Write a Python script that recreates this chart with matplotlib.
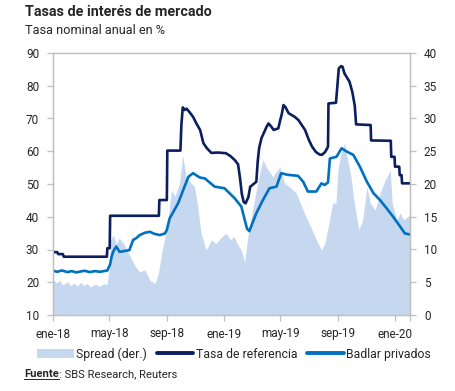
import matplotlib
matplotlib.use("Agg")
import matplotlib.pyplot as plt
import matplotlib.dates as mdates
from matplotlib.patches import Patch
from matplotlib.lines import Line2D
import pandas as pd

plt.rcParams['font.family'] = ['Roboto', 'DejaVu Sans']

# ---------------- data ----------------
tasa_dates = ["2018-01-01","2018-01-10","2018-01-12","2018-01-22","2018-01-24","2018-04-26","2018-04-27",
    "2018-05-02","2018-05-03","2018-08-15","2018-08-16","2018-09-01","2018-09-02","2018-09-30","2018-10-02",
    "2018-10-05","2018-10-09","2018-10-13","2018-10-18","2018-10-27","2018-11-03","2018-11-11","2018-11-18",
    "2018-11-25","2018-12-05","2018-12-20","2019-01-05","2019-01-15","2019-01-24","2019-01-31","2019-02-04",
    "2019-02-08","2019-02-12","2019-02-16","2019-02-22","2019-02-26","2019-03-01","2019-03-11","2019-03-14",
    "2019-03-17","2019-03-22","2019-04-02","2019-04-06","2019-04-12","2019-04-17","2019-04-27","2019-05-01",
    "2019-05-04","2019-05-08","2019-05-12","2019-05-19","2019-06-01","2019-06-09","2019-06-16","2019-06-23",
    "2019-07-01","2019-07-08","2019-07-16","2019-07-24","2019-07-29","2019-08-05","2019-08-11","2019-08-12",
    "2019-08-28","2019-08-31","2019-09-03","2019-09-08","2019-09-11","2019-09-15","2019-09-26","2019-10-02",
    "2019-10-07","2019-10-10","2019-11-10","2019-11-11","2019-12-23","2019-12-24","2019-12-31","2020-01-01",
    "2020-01-10","2020-01-11","2020-01-15","2020-01-16","2020-02-02"]
tasa_vals = [29.2,29.2,28.6,28.6,27.8,27.8,30.4,
    30.4,40.3,40.3,45.1,45.1,60.2,60.2,68.0,
    73.4,72.6,73.0,72.2,70.5,68.5,66.5,62.5,
    61.0,59.5,59.6,59.4,58.5,57.3,56.0,52.0,
    47.0,44.5,44.1,46.0,49.2,49.5,50.7,57.0,
    61.0,64.0,67.5,68.5,67.5,66.5,67.0,69.5,
    71.1,74.1,73.5,71.6,70.5,69.5,68.0,66.5,
    63.5,61.4,59.8,59.0,58.9,59.8,61.4,74.6,
    74.8,80.0,85.3,86.0,85.8,83.8,81.2,78.0,
    74.0,68.2,68.0,63.3,63.2,58.3,58.3,55.3,
    55.3,52.7,52.7,50.2,50.2]

badlar_dates = ["2018-01-01","2018-01-10","2018-01-20","2018-02-01","2018-02-10","2018-02-20","2018-03-01",
    "2018-03-10","2018-03-20","2018-04-01","2018-04-10","2018-04-20","2018-04-27","2018-05-03","2018-05-06",
    "2018-05-10","2018-05-16","2018-05-23","2018-06-01","2018-06-13","2018-06-21","2018-06-28","2018-07-05",
    "2018-07-16","2018-07-27","2018-08-05","2018-08-17","2018-08-28","2018-09-01","2018-09-07","2018-09-25",
    "2018-10-06","2018-10-17","2018-10-27","2018-11-10","2018-11-21","2018-12-12","2019-01-02","2019-01-24",
    "2019-02-07","2019-02-19","2019-02-24","2019-03-11","2019-03-25","2019-04-08","2019-04-23","2019-05-03",
    "2019-05-17","2019-06-08","2019-06-19","2019-06-29","2019-07-17","2019-07-28","2019-08-04","2019-08-11",
    "2019-08-15","2019-08-29","2019-09-09","2019-09-20","2019-10-04","2019-10-18","2019-11-02","2019-11-16",
    "2019-11-30","2019-12-14","2019-12-28","2020-01-12","2020-01-22","2020-02-02"]
badlar_vals = [23.5,23.2,23.6,23.1,23.4,23.0,23.3,
    23.5,23.1,23.4,23.2,23.4,23.6,25.5,27.8,
    29.5,30.9,29.3,29.5,29.8,32.9,33.5,34.4,
    35.1,35.4,34.8,34.4,34.9,36.0,39.5,44.1,
    48.2,52.2,53.3,52.0,51.7,49.2,48.7,45.6,
    43.1,36.4,35.6,41.1,45.1,48.7,49.2,53.3,
    52.8,52.5,50.7,47.7,47.7,50.2,49.7,50.5,
    57.8,58.3,60.9,59.9,58.9,55.3,50.7,47.2,
    45.1,42.6,40.0,37.0,34.9,34.6]

spread_dates = ["2018-01-01","2018-01-08","2018-01-15","2018-01-22","2018-02-01","2018-02-08","2018-02-15",
    "2018-02-22","2018-03-01","2018-03-08","2018-03-15","2018-03-22","2018-04-01","2018-04-10","2018-04-20",
    "2018-04-26","2018-05-01","2018-05-04","2018-05-10","2018-05-16","2018-05-22","2018-06-01","2018-06-13",
    "2018-06-25","2018-07-05","2018-07-16","2018-07-27","2018-08-07","2018-08-14","2018-08-22","2018-09-01",
    "2018-09-11","2018-09-18","2018-09-28","2018-10-05","2018-10-12","2018-10-23","2018-10-30","2018-11-06",
    "2018-11-13","2018-11-24","2018-12-05","2018-12-15","2018-12-25","2019-01-05","2019-01-15","2019-01-23",
    "2019-01-29","2019-02-07","2019-02-14","2019-02-21","2019-03-04","2019-03-18","2019-03-25","2019-04-01",
    "2019-04-15","2019-04-30","2019-05-10","2019-05-22","2019-06-04","2019-06-25","2019-07-08","2019-07-17",
    "2019-07-28","2019-08-04","2019-08-13","2019-08-21","2019-08-28","2019-09-01","2019-09-08","2019-09-15",
    "2019-09-22","2019-09-29","2019-10-06","2019-10-16","2019-10-24","2019-11-02","2019-11-09","2019-11-20",
    "2019-11-30","2019-12-11","2019-12-22","2019-12-26","2020-01-05","2020-01-12","2020-01-19","2020-02-02"]
spread_vals = [5.5,4.9,5.3,4.6,5.1,4.5,4.9,
    4.4,5.0,4.5,4.8,4.3,4.7,4.4,4.8,
    4.6,7.0,11.5,12.2,10.8,11.8,10.9,9.2,
    7.5,6.6,6.9,5.3,4.8,6.4,9.9,13.0,
    19.1,18.1,20.1,24.4,21.1,20.1,19.6,16.5,
    12.5,9.9,11.5,10.9,11.8,12.5,11.5,12.0,
    10.9,9.9,8.1,12.0,16.5,21.6,23.7,22.6,
    21.1,22.6,20.1,19.5,18.6,15.0,13.0,11.5,
    9.9,10.9,14.0,17.1,17.1,22.1,24.7,26.2,
    23.7,21.1,17.1,13.0,14.5,19.6,17.1,16.0,
    18.6,20.6,22.1,17.1,14.5,15.6,14.5,15.3]

x_tick_dates = ["2018-01-01","2018-05-01","2018-09-01","2019-01-01","2019-05-01","2019-09-01","2020-01-01"]
x_tick_labels = ["ene-18","may-18","sep-18","ene-19","may-19","sep-19","ene-20"]
left_ticks = [10, 20, 30, 40, 50, 60, 70, 80, 90]
right_ticks = [0, 5, 10, 15, 20, 25, 30, 35, 40]

# ---------------- style ----------------
C_SPREAD = "#c6d8ef"
C_TASA = "#0b1f5e"
C_BADLAR = "#0070c0"
C_AXIS = "#bfbfbf"
C_TEXT = "#262626"

fig = plt.figure(figsize=(4.56, 3.91), dpi=100)
ax = fig.add_axes([53/456, 1-315/391, (410-53)/456, (315-53)/391])
ax2 = ax.twinx()

sd = pd.to_datetime(spread_dates)
ax2.fill_between(sd, 0, spread_vals, color=C_SPREAD, linewidth=0)
ax.plot(pd.to_datetime(tasa_dates), tasa_vals, color=C_TASA, lw=1.9, solid_joinstyle='round')
ax.plot(pd.to_datetime(badlar_dates), badlar_vals, color=C_BADLAR, lw=1.9, solid_joinstyle='round')

ax.set_zorder(ax2.get_zorder() + 1)
ax.patch.set_visible(False)

xmin, xmax = pd.Timestamp("2018-01-01"), pd.Timestamp("2020-02-02")
ax.set_xlim(xmin, xmax)
ax.set_ylim(10, 90)
ax2.set_ylim(0, 40)
ax.set_yticks(left_ticks)
ax2.set_yticks(right_ticks)
ax.set_xticks(pd.to_datetime(x_tick_dates))
ax.set_xticklabels(x_tick_labels)
ax.set_xticks([xmax], minor=True)

for a in (ax, ax2):
    for s in a.spines.values():
        s.set_color(C_AXIS)
        s.set_linewidth(0.9)
    a.tick_params(colors=C_AXIS, labelcolor=C_TEXT, labelsize=8.5, length=4, width=0.9)
ax.tick_params(axis='x', which='minor', length=4, width=0.9, colors=C_AXIS)
ax.tick_params(axis='x', pad=5)
ax.tick_params(axis='y', pad=6)
ax2.tick_params(axis='y', pad=6)

fig.text(25/456, 1-12/391, "Tasas de interés de mercado", fontsize=10.4, fontweight='bold',
         color=C_TEXT, va='center', ha='left')
fig.text(25/456, 1-31/391, "Tasa nominal anual en %", fontsize=9.2, color=C_TEXT,
         va='center', ha='left')

handles = [Patch(facecolor=C_SPREAD, edgecolor='none'),
           Line2D([0], [0], color=C_TASA, lw=2.8, solid_capstyle='round'),
           Line2D([0], [0], color=C_BADLAR, lw=2.8, solid_capstyle='round')]
labels = ["Spread (der.)", "Tasa de referencia", "Badlar privados"]
leg = fig.legend(handles, labels, ncol=3, loc='center', bbox_to_anchor=(234/456, 1-354/391),
                 frameon=False, fontsize=8.8, handlelength=3.0, handletextpad=0.2,
                 columnspacing=0.8, labelcolor=C_TEXT)

t1 = fig.text(24/456, 1-374/391, "Fuente", fontsize=8.1, fontweight='bold', color=C_TEXT,
              va='center', ha='left')
fig.canvas.draw()
bb = t1.get_window_extent()
x1 = bb.x1 / fig.bbox.width
fig.add_artist(Line2D([24/456, x1], [bb.y0/fig.bbox.height - 0.001]*2, color=C_TEXT, lw=0.7))
fig.text(x1, 1-374/391, ": SBS Research, Reuters", fontsize=8.1, color=C_TEXT,
         va='center', ha='left')

fig.savefig("out.png", dpi=100)
